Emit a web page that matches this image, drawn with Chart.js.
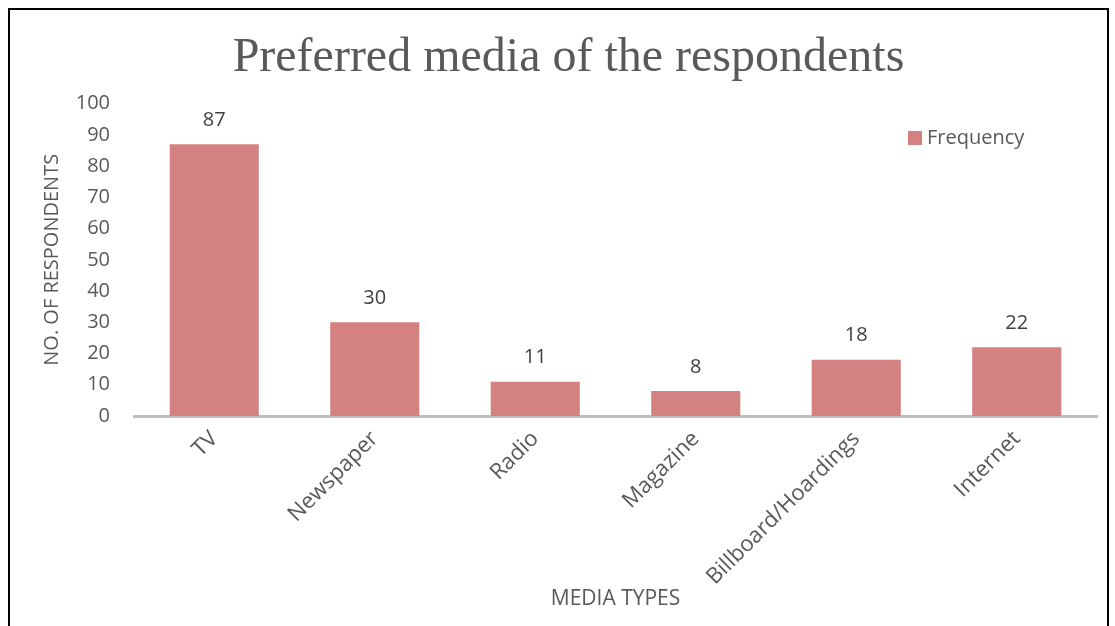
<!DOCTYPE html>
<html>
<head>
<meta charset="utf-8">
<script src="https://cdn.jsdelivr.net/npm/chart.js@4/dist/chart.umd.min.js"></script>
<style>
  html, body { margin: 0; padding: 0; background: #fff; overflow: hidden; }
  #frame { position: absolute; left: 8px; top: 8px; width: 1101px; height: 700px; border: 2px solid #000; box-sizing: border-box; }
  #wrap { position: absolute; left: 0; top: 0; width: 1115px; height: 626px; }
</style>
</head>
<body>
<div id="frame"></div>
<div id="wrap"><canvas id="mediaChart"></canvas></div>
<script>
const mediaTypes = ["TV", "Newspaper", "Radio", "Magazine", "Billboard/Hoardings", "Internet"];
const frequency = [87, 30, 11, 8, 18, 22];
const yTicks = [0, 10, 20, 30, 40, 50, 60, 70, 80, 90, 100];

const barColor = "#d48181";
const textGray = "#595959";

// value labels above the bars
const valueLabels = {
  id: "valueLabels",
  afterDatasetsDraw(chart) {
    const ctx = chart.ctx;
    const meta = chart.getDatasetMeta(0);
    ctx.save();
    ctx.font = "20px 'Open Sans'";
    ctx.fillStyle = "#404040";
    ctx.textAlign = "center";
    ctx.textBaseline = "middle";
    meta.data.forEach((bar, i) => {
      ctx.fillText(String(frequency[i]), bar.x, bar.y - 24);
    });
    ctx.restore();
  },
};

// legend drawn inside the plot, top right
const sideLegend = {
  id: "sideLegend",
  afterDraw(chart) {
    const ctx = chart.ctx;
    const ds = chart.data.datasets[0];
    ctx.save();
    ctx.fillStyle = ds.backgroundColor;
    ctx.fillRect(908, 131, 14, 14);
    ctx.font = "20px 'Open Sans'";
    ctx.fillStyle = textGray;
    ctx.textAlign = "left";
    ctx.textBaseline = "middle";
    ctx.fillText(ds.label, 927, 138);
    ctx.restore();
  },
};

new Chart(document.getElementById("mediaChart"), {
  type: "bar",
  data: {
    labels: mediaTypes,
    datasets: [
      {
        label: "Frequency",
        data: frequency,
        backgroundColor: barColor,
        borderWidth: 0,
        categoryPercentage: 1,
        barPercentage: 0.555,
      },
    ],
  },
  options: {
    responsive: true,
    maintainAspectRatio: false,
    animation: false,
    layout: { padding: { top: 12, left: 40, right: 18, bottom: 0 } },
    plugins: {
      legend: { display: false },
      tooltip: { enabled: false },
      title: {
        display: true,
        text: "Preferred media of the respondents",
        color: textGray,
        font: { family: "'Liberation Serif'", size: 48, weight: "normal" },
        padding: { top: 18, bottom: 16 },
      },
    },
    scales: {
      x: {
        grid: { display: false, drawTicks: false },
        border: { display: true, color: "#bfbfbf", width: 3 },
        ticks: {
          color: textGray,
          font: { family: "'Open Sans'", size: 22 },
          minRotation: 45,
          maxRotation: 45,
          padding: 10,
        },
        title: {
          display: true,
          text: "MEDIA TYPES",
          color: textGray,
          font: { family: "'Open Sans'", size: 21 },
          padding: { top: 0, bottom: 14 },
        },
        afterFit(scale) { scale.height = 210; },
      },
      y: {
        min: 0,
        max: 100,
        grid: { display: false, drawTicks: false },
        border: { display: false },
        afterBuildTicks(scale) { scale.ticks = yTicks.map((v) => ({ value: v })); },
        ticks: {
          color: textGray,
          font: { family: "'Open Sans'", size: 20 },
          padding: 24,
        },
        title: {
          display: true,
          text: "NO. OF RESPONDENTS",
          color: textGray,
          font: { family: "'Open Sans'", size: 20 },
          padding: { top: 0, bottom: 0 },
        },
        afterFit(scale) { scale.width = 94; },
      },
    },
  },
  plugins: [valueLabels, sideLegend],
});
</script>
</body>
</html>
